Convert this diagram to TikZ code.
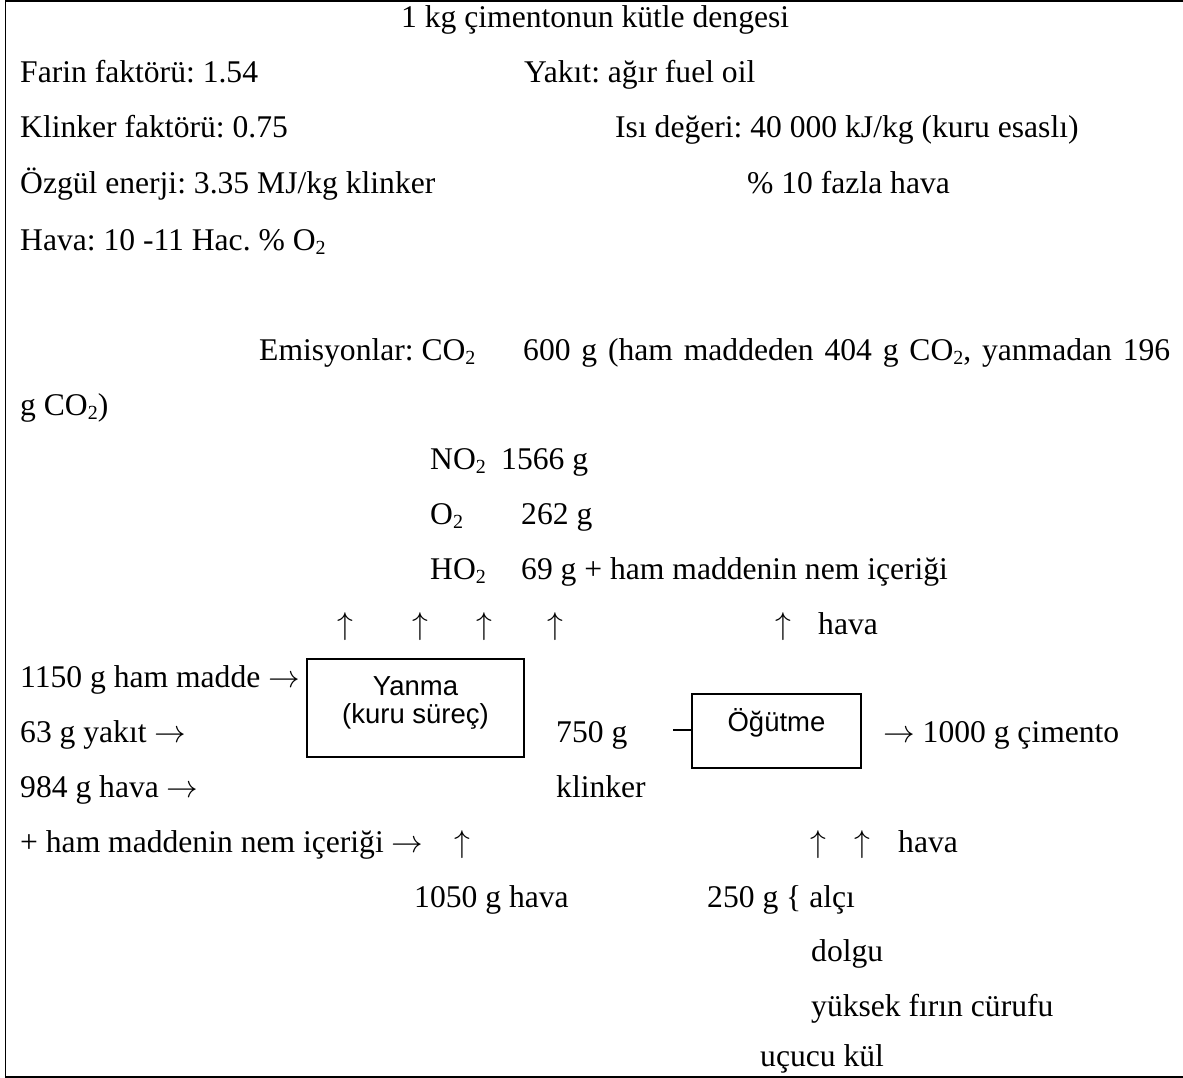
\RequirePackage{fix-cm}
\documentclass[tikz,border=0pt]{standalone}
\usepackage{fontspec}
\setmainfont{Liberation Serif}
\newfontfamily\boxfont{Liberation Sans}
\newcommand\mysub[1]{\raisebox{-4pt}{\fontsize{20}{20}\selectfont #1}}
\newcommand\myra{$\rightarrow$}
\newcommand\myua{$\uparrow$}
\frenchspacing
\begin{document}
\begin{tikzpicture}[x=1pt,y=-1pt,
  txt/.style={anchor=base west,inner sep=0pt,font=\fontsize{31.6}{36}\selectfont\frenchspacing},
  upar/.style={anchor=base,inner sep=0pt,font=\fontsize{31.6}{36}\selectfont},
  procbox/.style={draw,line width=1.3pt,rectangle,inner sep=0pt},
  boxtxt/.style={inner sep=0pt,align=center,font=\boxfont\fontsize{27.5}{28}\selectfont},
  frame/.style={line width=1.6pt}]
\useasboundingbox (0,0) rectangle (1183,1078);
% frame
\coordinate (ftr) at (1183,0.8);
\coordinate (ftl) at (5.5,0.8);
\coordinate (fbl) at (5.5,1077.2);
\coordinate (fbr) at (1183,1077.2);
\draw[frame] (ftr) -- (ftl) -- (fbl) -- (fbr);
% header
\node[txt] (title) at (401,28) {1 kg çimentonun kütle dengesi};
\node[txt] (farin) at (20,83) {Farin faktörü: 1.54};
\node[txt] (yakit) at (524,83) {Yakıt: ağır fuel oil};
\node[txt] (klinkerf) at (20,138) {Klinker faktörü: 0.75};
\node[txt] (isi) at (615,138) {Isı değeri: 40 000 kJ/kg (kuru esaslı)};
\node[txt] (ozgul) at (20,194) {Özgül enerji: 3.35 MJ/kg klinker};
\node[txt] (fazla) at (747,194) {\% 10 fazla hava};
\node[txt] (hava) at (20,250) {Hava: 10 -11 Hac. \% O\mysub{2}};
% emissions
\node[txt] (emis) at (259,360) {Emisyonlar: CO\mysub{2}};
\node[txt] (emis2) at (523,360) {\makebox[647pt][s]{600 g (ham maddeden 404 g CO\mysub{2}, yanmadan 196}};
\node[txt] (emis3) at (20,415) {g CO\mysub{2})};
\node[txt] (no2) at (430,469) {NO\mysub{2}};
\node[txt] (no2v) at (501,469) {1566 g};
\node[txt] (o2) at (430,524) {O\mysub{2}};
\node[txt] (o2v) at (521,524) {262 g};
\node[txt] (ho2) at (430,579) {HO\mysub{2}};
\node[txt] (ho2v) at (521,579) {69 g + ham maddenin nem içeriği};
% upward arrows
\node[upar] (u1) at (345,634) {\myua};
\node[upar] (u2) at (420,634) {\myua};
\node[upar] (u3) at (484,634) {\myua};
\node[upar] (u4) at (555,634) {\myua};
\node[upar] (u5) at (783,634) {\myua};
\node[txt] (uhava1) at (818,634) {hava};
% inputs
\node[txt] (ham) at (20,687) {1150 g ham madde \myra};
\node[txt] (yakitin) at (20,742) {63 g yakıt \myra};
\node[txt] (havain) at (20,797) {984 g hava \myra};
\node[txt] (nem) at (20,852) {+ ham maddenin nem içeriği \myra};
% Yanma box
\node[procbox,minimum width=217pt,minimum height=98pt] (yanma) at (415.5,708) {};
\node[boxtxt] (yanmat) at (415.5,703) {Yanma\\(kuru süreç)};
% clinker
\node[txt] (k750) at (556,742) {750 g};
\node[txt] (klinker) at (556,797) {klinker};
% Ogutme box
\node[procbox,minimum width=169pt,minimum height=74pt] (ogutme) at (776.5,731) {};
\node[boxtxt] (ogutmet) at (776.5,723) {Öğütme};
\coordinate (dashstart) at (673,730);
\draw[line width=1.1pt] (dashstart) -- (ogutme.west |- dashstart);
\node[txt] (cimento) at (883,742) {\myra{} 1000 g çimento};
% lower arrows
\node[upar] (u6) at (462,852) {\myua};
\node[upar] (u7) at (818,852) {\myua};
\node[upar] (u8) at (862,852) {\myua};
\node[txt] (uhava2) at (898,852) {hava};
\node[txt] (hava1050) at (414,907) {1050 g hava};
\node[txt] (alci) at (707,907) {250 g \{ alçı};
\node[txt] (dolgu) at (811,961) {dolgu};
\node[txt] (yuksek) at (811,1016) {yüksek fırın cürufu};
\node[txt] (ucucu) at (760,1066) {uçucu kül};
\end{tikzpicture}
\end{document}
